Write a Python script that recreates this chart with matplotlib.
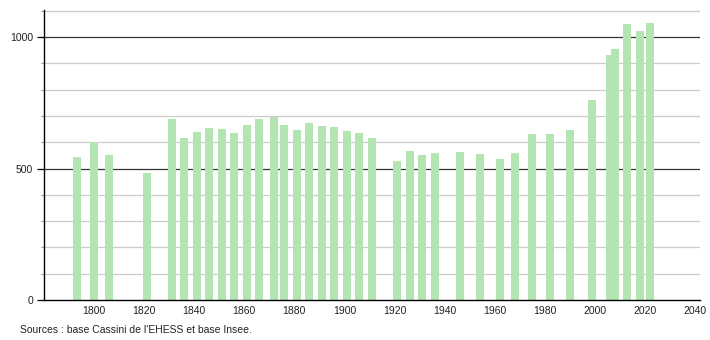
import matplotlib.pyplot as plt

plt.rcParams["font.family"] = ["Liberation Sans", "DejaVu Sans"]

years = [1793, 1800, 1806, 1821, 1831, 1836, 1841, 1846, 1851, 1856,
         1861, 1866, 1872, 1876, 1881, 1886, 1891, 1896, 1901, 1906,
         1911, 1921, 1926, 1931, 1936, 1946, 1954, 1962, 1968, 1975,
         1982, 1990, 1999, 2006, 2008, 2013, 2018, 2022]
population = [542, 600, 550, 482, 688, 616, 639, 655, 650, 635,
              665, 687, 697, 665, 646, 672, 662, 657, 641, 634,
              615, 528, 565, 550, 558, 563, 555, 535, 561, 631,
              630, 646, 760, 932, 953, 1049, 1023, 1052]
xticks = list(range(1800, 2041, 20))
major_y = [0, 500, 1000]
minor_y = [v for v in range(100, 1101, 100) if v not in major_y]

BAR_COLOR = "#b3e5b3"

fig = plt.figure(figsize=(7.1, 3.4), dpi=100)
ax = fig.add_axes([44 / 710, 40 / 340, 656 / 710, 290 / 340])

# light grid every 100, dark at 500 / 1000
for v in minor_y:
    ax.axhline(v, color="#cccccc", linewidth=0.9, zorder=0)
for v in major_y[1:]:
    ax.axhline(v, color="#333333", linewidth=0.9, zorder=0)

ax.bar(years, population, width=3.2, color=BAR_COLOR, zorder=2)

ax.set_xlim(1780, 2042)
ax.set_ylim(0, 1103)

ax.set_xticks(xticks)
ax.set_xticklabels([str(x) for x in xticks], fontsize=7.5, color="#222222")
ax.tick_params(axis="x", length=0, pad=4)

ax.set_yticks(major_y)
ax.set_yticklabels([str(v) for v in major_y], fontsize=7.5, color="#222222")
ax.set_yticks(minor_y, minor=True)
ax.tick_params(axis="y", which="major", length=5, width=0.9, pad=3)
ax.tick_params(axis="y", which="minor", length=2, width=0.8, color="#999999")

for s in ["top", "right"]:
    ax.spines[s].set_visible(False)
for s in ["left", "bottom"]:
    ax.spines[s].set_color("black")
    ax.spines[s].set_linewidth(1.0)

fig.text(20 / 710, 1 - 330 / 340, "Sources : base Cassini de l'EHESS et base Insee.",
         fontsize=7.5, color="#222222", va="center", ha="left")

fig.savefig("out.png", dpi=100)
